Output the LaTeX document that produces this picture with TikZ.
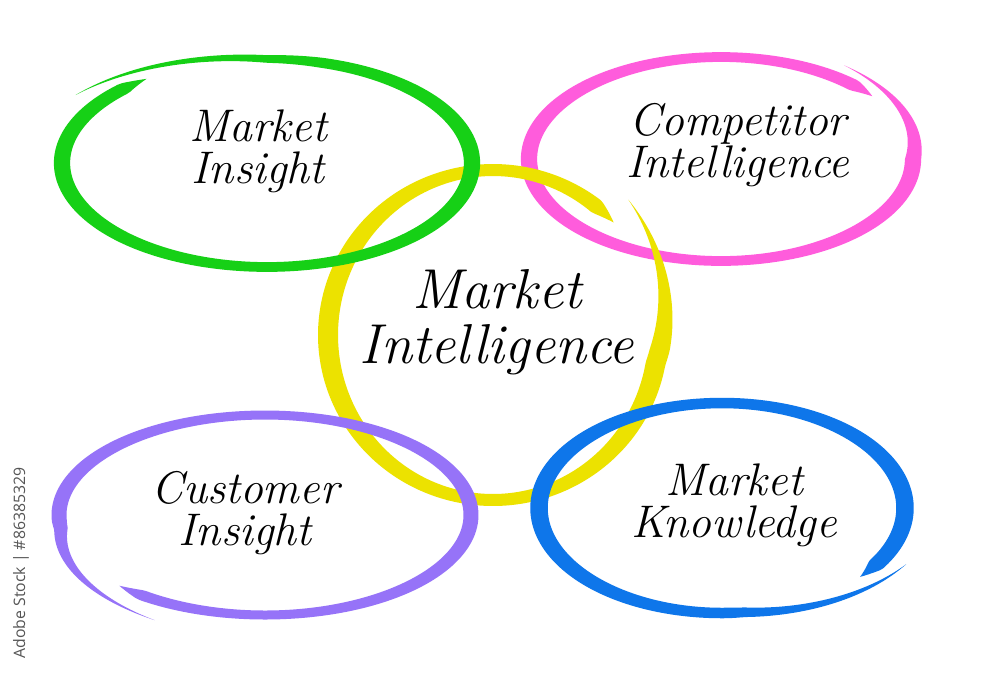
\documentclass[tikz,border=0pt]{standalone}
\usepackage{fontspec}
\newfontfamily\wmfont{Open Sans}
\definecolor{rkgreen}{RGB}{22,208,22}
\definecolor{rkpink}{RGB}{255,92,220}
\definecolor{rkyellow}{RGB}{236,226,0}
\definecolor{rkpurple}{RGB}{150,115,248}
\definecolor{rkblue}{RGB}{14,118,234}
\definecolor{wmgray}{RGB}{85,85,85}
\def\rkD{1}\def\rkLa{60}\def\rkLb{8}\def\rkEs{0.12}\def\rkEe{0}\def\rkLs{55}\def\rkM{0.25}
\def\rkA{0}\def\rkB{360}\def\rkW{12}
\tikzset{
  declare function={
    rkw(\t)=(\rkW)*min(1,((\t)-(\rkA))/(\rkLa))*min(1,((\rkB)-(\t))/(\rkLb))*(1+(\rkM)*cos(2*(\t)));
    rks(\t)=1+(\rkEs)*max(0,1-((\t)-(\rkA))/(\rkLs))+(\rkEe)*max(0,1-((\rkB)-(\t))/(\rkLs));
  },
  lbl/.style={font=\fontsize{26}{24}\selectfont\itshape, align=center, text=black, inner sep=0pt},
  lblbig/.style={font=\fontsize{32}{31}\selectfont\itshape, align=center, text=black, inner sep=0pt},
}
% #1 cx, #2 cy, #3 rx, #4 ry, #5 t start, #6 t end, #7 width, #8 colour
\newcommand\rkring[8]{%
  \def\rkA{#5}\def\rkB{#6}\def\rkW{#7}%
  \fill[#8] plot[domain=#5:#6,samples=260,variable=\t]
    ({#1+((#3)*rks(\t)+rkw(\t)/2)*cos((\rkD)*(\t))},{#2+((#4)*rks(\t)+rkw(\t)/2)*sin((\rkD)*(\t))})
    -- plot[domain=#5:#6,samples=260,variable=\t]
    ({#1+((#3)*rks((#5)+(#6)-(\t))-rkw((#5)+(#6)-(\t))/2)*cos((\rkD)*((#5)+(#6)-(\t)))},%
     {#2+((#4)*rks((#5)+(#6)-(\t))-rkw((#5)+(#6)-(\t))/2)*sin((\rkD)*((#5)+(#6)-(\t)))})
    -- cycle;}
\begin{document}
\begin{tikzpicture}[x=0.02cm,y=-0.02cm]
\useasboundingbox (0,0) rectangle (1000,691);
\fill[white] (0,0) rectangle (1000,691);
% pink
\def\rkD{1}\def\rkLa{55}\def\rkLb{8}\def\rkEs{0.12}\def\rkEe{0}
\rkring{721}{159}{192}{102}{305}{682}{13}{rkpink}
% yellow
\def\rkD{1}\def\rkLa{50}\def\rkLb{8}\def\rkEs{0.16}\def\rkEe{0}
\rkring{493}{335}{165}{165}{315}{677}{16}{rkyellow}
% green
\def\rkD{1}\def\rkLa{70}\def\rkLb{8}\def\rkEs{0.14}\def\rkEe{0}
\rkring{267}{163}{205}{104}{215}{594}{13}{rkgreen}
% purple
\def\rkD{-1}\def\rkLa{8}\def\rkLb{60}\def\rkEs{0}\def\rkEe{0.18}
\rkring{265}{515}{206}{100}{225}{603}{12}{rkpurple}
% blue
\def\rkD{1}\def\rkLa{60}\def\rkLb{8}\def\rkEs{0.14}\def\rkEe{0}
\rkring{722}{508}{183}{105}{28}{401}{14}{rkblue}
% labels
\node[lbl] (mi) at (258,151) {Market\\Insight};
\node[lbl] (ci) at (738,145) {Competitor\\Intelligence};
\node[lblbig] (mint) at (497,322) {Market\\Intelligence};
\node[lbl] (cu) at (245,513) {Customer\\Insight};
\node[lbl] (mk) at (734,505) {Market\\Knowledge};
\node[rotate=90, text=wmgray, font=\wmfont\fontsize{9}{10}\selectfont] (wm) at (21,563) {Adobe Stock | \#86385329};
\end{tikzpicture}
\end{document}
